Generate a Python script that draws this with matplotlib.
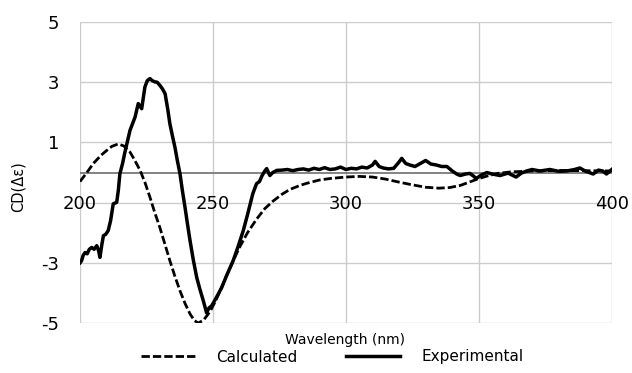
import matplotlib
matplotlib.use("Agg")
import matplotlib.pyplot as plt

# Calculated CD spectrum (dashed)
wl_calc = [200, 203, 205, 208, 210, 212, 214.4, 216.5, 218.8, 220.5, 222.6, 224.5,
           226.3, 228, 230, 232, 233.8, 235.7, 237.6, 239.5, 241.4, 243, 244.5,
           246.5, 248.9, 250.8, 252.6, 255, 257.5, 260.2, 263, 266.4, 269.5,
           272.6, 276, 279, 282.7, 285.2, 290, 294, 300, 305, 310, 315, 320,
           325, 330, 335, 339, 343, 347, 350, 353, 357, 362, 370, 380, 390, 400]
cd_calc = [-0.3, 0.05, 0.3, 0.58, 0.73, 0.87, 0.95, 0.88, 0.68, 0.42, 0.07, -0.35,
           -0.82, -1.3, -1.82, -2.4, -2.93, -3.45, -3.93, -4.35, -4.7, -4.92, -5.0,
           -4.9, -4.62, -4.3, -3.95, -3.45, -2.95, -2.45, -2.0, -1.55, -1.2,
           -0.95, -0.72, -0.56, -0.43, -0.36, -0.25, -0.2, -0.15, -0.13, -0.15,
           -0.22, -0.32, -0.41, -0.49, -0.52, -0.5, -0.43, -0.3, -0.2, -0.12,
           -0.03, 0.02, 0.05, 0.07, 0.06, 0.05]

# Experimental CD spectrum (solid)
wl_exp = [200, 200.6, 201.2, 201.9, 202.7, 203.5, 204.4, 205.3, 206.3, 207, 207.5,
          208.2, 208.8, 209.7, 210.6, 211.5, 212.5, 213.8, 214.4, 215, 216, 216.9,
          218, 218.8, 220.7, 221.9, 223.2, 224.4, 225.3, 226.3, 227.2, 228.2, 229,
          230, 231, 232, 233, 233.8, 234.8, 235.7, 236.6, 237.6, 238.5, 239.5,
          240.4, 241.4, 242.6, 243.9, 245, 246.4, 247.6, 248.5, 249.5, 251, 253.3,
          255, 257.6, 259.5, 261.4, 263, 265, 266.4, 267.5, 268.5, 269.5, 270.2,
          271.4, 272.5, 274, 276, 278, 280, 282, 284, 286, 288, 290, 292, 294, 296,
          298, 300, 302, 304, 306, 308, 310, 311, 312.5, 314, 316, 318, 320, 321,
          322.5, 324, 326, 328, 330, 332, 334, 336, 338, 340, 341.7, 343, 345,
          346.6, 348, 349, 351, 353, 355, 358, 361, 364, 366, 368, 370, 373, 376.7,
          380, 383, 386, 388, 390, 393, 395, 396.6, 398, 400]
cd_exp = [-3.0, -2.93, -2.75, -2.66, -2.7, -2.55, -2.49, -2.55, -2.43, -2.6, -2.82,
          -2.4, -2.1, -2.05, -1.93, -1.6, -1.04, -0.99, -0.6, -0.04, 0.3, 0.68,
          1.1, 1.4, 1.84, 2.29, 2.12, 2.84, 3.05, 3.12, 3.05, 3.01, 3.0,
          2.9, 2.78, 2.62, 2.1, 1.62, 1.2, 0.84, 0.4, -0.04, -0.6, -1.16,
          -1.7, -2.27, -2.9, -3.49, -3.85, -4.27, -4.66, -4.5, -4.43, -4.2, -3.82,
          -3.45, -2.93, -2.45, -1.93, -1.4, -0.7, -0.37, -0.3, -0.1, 0.05, 0.13,
          -0.1, 0.0, 0.07, 0.08, 0.1, 0.06, 0.1, 0.12, 0.08, 0.14, 0.1, 0.16, 0.1, 0.12,
          0.18, 0.1, 0.14, 0.12, 0.18, 0.15, 0.25, 0.37, 0.2, 0.15, 0.12, 0.14, 0.35, 0.47,
          0.3, 0.25, 0.2, 0.3, 0.4, 0.28, 0.25, 0.2, 0.2, 0.05, -0.05, -0.1, -0.05,
          -0.03, -0.12, -0.2, -0.08, 0.0, -0.05, -0.1, -0.02, -0.15, -0.02, 0.05, 0.1, 0.05, 0.1,
          0.04, 0.05, 0.1, 0.15, 0.05, -0.05, 0.08, 0.05, -0.05, 0.1]

x_ticks = [200, 250, 300, 350, 400]
y_ticks = [-5, -3, -1, 1, 3, 5]
y_labels = ["-5", "-3", "", "1", "3", "5"]

fig = plt.figure(figsize=(6.32, 3.73), dpi=100)
ax = fig.add_axes([0.1266, 0.134, 0.8414, 0.807])

# grid drawn by hand so the box edges are grid lines too
for xv in x_ticks:
    ax.axvline(xv, color="#cccccc", lw=1.0, zorder=0)
for yv in y_ticks:
    ax.axhline(yv, color="#cccccc", lw=1.0, zorder=0)
ax.axhline(0, color="#6e6e6e", lw=1.2, zorder=1)

ax.plot(wl_calc, cd_calc, color="black", lw=2.0, linestyle=(0, (3.0, 1.1)),
        label="Calculated", zorder=3)
ax.plot(wl_exp, cd_exp, color="black", lw=2.5, label="Experimental", zorder=4)

ax.set_xlim(200, 400)
ax.set_ylim(-5, 5)
for s in ax.spines.values():
    s.set_visible(False)

ax.set_xticks(x_ticks)
ax.set_yticks(y_ticks)
ax.set_yticklabels(y_labels)
ax.tick_params(axis="both", length=0, labelsize=13)
ax.tick_params(axis="y", pad=15)
ax.tick_params(axis="x", labelbottom=False)

# x tick labels sit just below the zero line (axis crosses at 0)
for xv in x_ticks:
    ax.text(xv, -1.05, str(xv), ha="center", va="center", fontsize=13, zorder=5)

fig.text(0.546, 1 - 340 / 373, "Wavelength (nm)", ha="center", va="center", fontsize=10)
fig.text(18 / 632, 1 - 187 / 373, "CD(\u0394\u03b5)", ha="center", va="center",
         rotation=90, fontsize=10.5)

fig.legend(loc="center", bbox_to_anchor=(0.526, 1 - 357 / 373), ncol=2, frameon=False,
           fontsize=11, handlelength=3.5, handletextpad=1.4, columnspacing=3.2)

fig.savefig("out.png", dpi=100)
